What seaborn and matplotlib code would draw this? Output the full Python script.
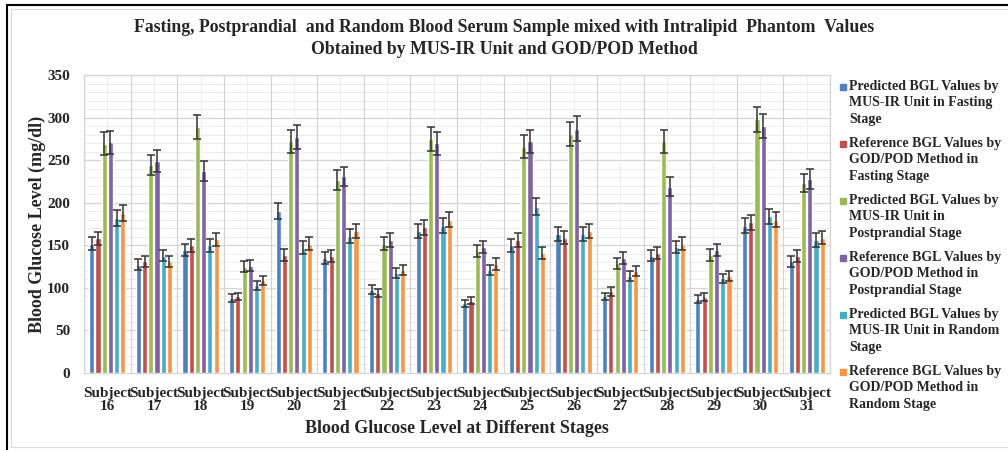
import matplotlib
matplotlib.use("Agg")
import matplotlib.pyplot as plt
import seaborn as sns
import pandas as pd
import numpy as np
from matplotlib.lines import Line2D
from matplotlib.patches import Rectangle
from matplotlib.legend_handler import HandlerLine2D

subjects = ["Subject\n16", "Subject\n17", "Subject\n18", "Subject\n19", "Subject\n20", "Subject\n21",
            "Subject\n22", "Subject\n23", "Subject\n24", "Subject\n25", "Subject\n26", "Subject\n27",
            "Subject\n28", "Subject\n29", "Subject\n30", "Subject\n31"]

series_names = [
    "Predicted BGL Values by\nMUS-IR Unit in Fasting\nStage",
    "Reference BGL Values by\nGOD/POD Method in\nFasting Stage",
    "Predicted BGL Values by\nMUS-IR Unit in\nPostprandial Stage",
    "Reference BGL Values by\nGOD/POD Method in\nPostprandial Stage",
    "Predicted BGL Values by\nMUS-IR Unit in Random\nStage",
    "Reference BGL Values by\nGOD/POD Method in\nRandom Stage",
]

pred_fasting = [152, 127, 145, 88, 190, 135, 98, 167, 82, 150, 163, 90, 138, 87, 173, 131]
ref_fasting = [158, 131, 150, 90, 139, 137, 94, 171, 85, 156, 159, 96, 141, 89, 177, 137]
pred_pp = [269, 244, 289, 125, 272, 227, 152, 275, 143, 266, 281, 129, 272, 139, 298, 223]
ref_pp = [271, 249, 237, 126, 277, 231, 156, 270, 148, 272, 287, 135, 219, 145, 290, 228]
pred_random = [182, 138, 150, 103, 147, 161, 117, 173, 121, 195, 163, 114, 148, 111, 184, 156]
ref_random = [188, 131, 157, 109, 152, 167, 121, 180, 128, 141, 167, 120, 152, 114, 180, 159]

err_pred_fasting = [8, 6.5, 7, 4.5, 9.5, 7, 5, 8.5, 4, 7.5, 8, 4.5, 7, 4.5, 8.5, 6.5]
err_ref_fasting = [8, 6.5, 7.5, 4.5, 7, 7, 4.5, 8.5, 4.5, 8, 8, 5, 7, 4.5, 9, 7]
err_pred_pp = [13.5, 12, 14.5, 6, 13.5, 11.5, 7.5, 14, 7, 13.5, 14, 6.5, 13.5, 7, 15, 11]
err_ref_pp = [13.5, 12.5, 12, 6.5, 14, 11.5, 8, 13.5, 7.5, 13.5, 14.5, 7, 11, 7, 14.5, 11.5]
err_pred_random = [9, 7, 7.5, 5, 7.5, 8, 6, 8.5, 6, 10, 8, 5.5, 7.5, 5.5, 9, 8]
err_ref_random = [9.5, 6.5, 8, 5.5, 7.5, 8.5, 6, 9, 6.5, 7, 8.5, 6, 7.5, 5.5, 9, 8]

colors = ["#4F81BD", "#C0504D", "#9BBB59", "#8064A2", "#4BACC6", "#F79646"]

values = [pred_fasting, ref_fasting, pred_pp, ref_pp, pred_random, ref_random]
errors = [err_pred_fasting, err_ref_fasting, err_pred_pp, err_ref_pp, err_pred_random, err_ref_random]

rows = []
for name, vals in zip(series_names, values):
    for s, v in zip(subjects, vals):
        rows.append({"Subject": s, "Series": name, "Value": v})
df = pd.DataFrame(rows)

sns.set_theme(style="white")
plt.rcParams["font.family"] = ["Liberation Serif", "DejaVu Serif"]
plt.rcParams["font.weight"] = "bold"

fig = plt.figure(figsize=(10.08, 4.50), dpi=100)
ax = fig.add_axes([84 / 1008, 1 - 373 / 450, 746 / 1008, 298 / 450])

sns.barplot(data=df, x="Subject", y="Value", hue="Series", hue_order=series_names,
            palette=colors, errorbar=None, width=0.8, gap=0.18, ax=ax, legend=False,
            saturation=1, zorder=3)

for cont, errs in zip(ax.containers, errors):
    xs = [b.get_x() + b.get_width() / 2 for b in cont]
    hs = [b.get_height() for b in cont]
    ax.errorbar(xs, hs, yerr=errs, fmt="none", ecolor="#333333", elinewidth=1.1,
                capsize=3.2, capthick=1.1, zorder=4)

ax.set_ylim(0, 350)
ax.set_xlim(-0.5, len(subjects) - 0.5)
ax.set_yticks(np.arange(0, 351, 50))
ax.set_xticks(np.arange(len(subjects)))
ax.grid(False)
for y in np.arange(10, 351, 10):
    ax.axhline(y, color="#d4d4d4" if y % 50 == 0 else "#ececec", lw=0.9 if y % 50 == 0 else 0.7, zorder=0)
for x in np.arange(len(subjects) + 1) - 0.5:
    ax.axvline(x, color="#d4d4d4", lw=0.9, zorder=0)
for x in np.arange(len(subjects)):
    ax.axvline(x, color="#ececec", lw=0.7, zorder=0)

ax.tick_params(axis="both", which="both", length=0)
ax.tick_params(axis="y", pad=10, labelsize=11)
ax.tick_params(axis="x", pad=10, labelsize=11)
for lab in ax.get_xticklabels():
    lab.set_fontweight("bold")
    lab.set_linespacing(1.0)
for lab in ax.get_yticklabels():
    lab.set_fontweight("bold")

for sp in ax.spines.values():
    sp.set_color("#d4d4d4")
    sp.set_linewidth(0.9)

ax.set_xlabel("Blood Glucose Level at Different Stages", fontsize=13, fontweight="bold", labelpad=5)
ax.set_ylabel("Blood Glucose Level (mg/dl)", fontsize=13, fontweight="bold", labelpad=1)

fig.text(0.5, 1 - 27 / 450,
         "Fasting, Postprandial  and Random Blood Serum Sample mixed with Intralipid  Phantom  Values",
         ha="center", va="center", fontsize=12.8, fontweight="bold")
fig.text(0.5, 1 - 49 / 450, "Obtained by MUS-IR Unit and GOD/POD Method",
         ha="center", va="center", fontsize=12.8, fontweight="bold")


class TopLineHandler(HandlerLine2D):
    """Place the legend marker beside the first line of a multi-line label."""
    def create_artists(self, legend, orig_handle, xdescent, ydescent, width, height, fontsize, trans):
        artists = super().create_artists(legend, orig_handle, xdescent, ydescent, width, height,
                                         fontsize, trans)
        for a in artists:
            a.set_ydata([y + 11.5 for y in a.get_ydata()])
        return artists


handles = [Line2D([0], [0], marker="s", color="none", markerfacecolor=c, markeredgecolor=c,
                  markersize=4.5) for c in colors]
leg = fig.legend(handles, series_names, loc="upper left", bbox_to_anchor=(834 / 1008, 1 - 74 / 450),
                 frameon=False, prop={"family": "Liberation Serif", "weight": "bold", "size": 10},
                 labelspacing=0.78, handlelength=0.5, handletextpad=0.2, borderaxespad=0,
                 handler_map={Line2D: TopLineHandler()})
for t in leg.get_texts():
    t.set_linespacing(1.36)

# outer frame
fig.add_artist(Rectangle((11 / 1008, 3 / 450), 1.0, 1 - 12 / 450, transform=fig.transFigure,
                         fill=False, edgecolor="#d9d9d9", lw=0.8))
fig.add_artist(Line2D([7 / 1008, 1.0], [1 - 5 / 450, 1 - 5 / 450], transform=fig.transFigure,
                      color="black", lw=1.5))
fig.add_artist(Line2D([7 / 1008, 7 / 1008], [0, 1 - 5 / 450], transform=fig.transFigure,
                      color="black", lw=1.5))

fig.savefig("out.png", dpi=100)
